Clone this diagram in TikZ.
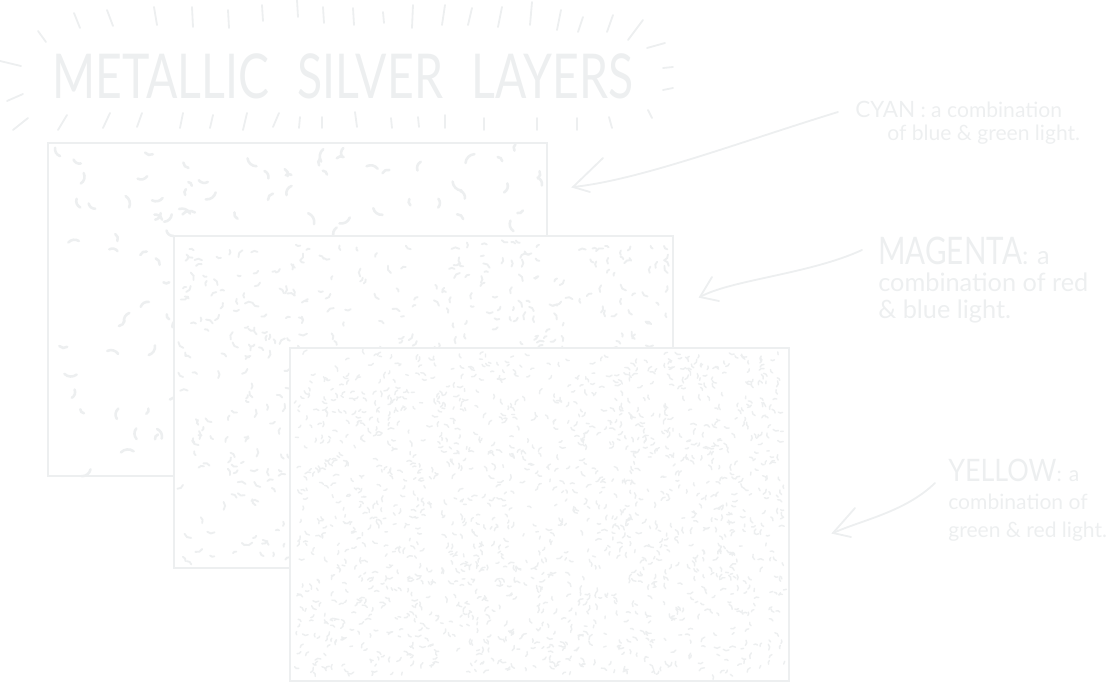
\documentclass[tikz,border=0pt]{standalone}
\usepackage{fontspec}
\setmainfont{Lato}
\usepackage{tikz}
\usetikzlibrary{positioning}

\definecolor{faint}{RGB}{237,239,240}

\tikzset{
  layer/.style={draw=faint, line width=1.4pt, fill=white},
  ray/.style={draw=faint, line width=1.3pt, line cap=round},
  speck/.style={draw=faint, line cap=round},
  pointer/.style={draw=faint, line width=1.3pt, line cap=round},
  note/.style={text=faint, align=left, anchor=north west, inner sep=0pt},
}

\begin{document}
\begin{tikzpicture}[x=0.025cm, y=-0.025cm]
  \useasboundingbox (0,0) rectangle (1111,683);
  \pgfmathsetseed{17}

  % title with its rays
  \node[text=faint, anchor=west, inner sep=0pt, xscale=0.75,
        font=\fontsize{44}{44}\selectfont] (title) at (52,76)
    {METALLIC\hspace{0.55cm} SILVER\hspace{0.55cm} LAYERS};
  \foreach \xa/\ya/\xb/\yb in {38/31/46/42, 74/13/80/28, 107/10/113/26, 154/7/157/25,
      192/7/193/27, 228/10/229/28, 262/5/263/21, 297/0/298/17, 323/7/324/23,
      353/8/354/25, 383/12/384/23, 413/5/412/28, 445/5/442/25, 472/8/468/25,
      502/7/498/27, 532/2/530/25, 561/10/557/30, 583/17/578/32, 613/15/607/32,
      643/20/628/40, 665/43/647/48, 673/67/663/68, 673/88/663/90,
      0/61/21/66, 7/101/23/94}
    \draw[ray] (\xa,\ya) -- (\xb,\yb);
  \foreach \xa/\ya/\xb/\yb in {13/130/28/118, 58/130/67/115, 103/128/110/113,
      137/127/142/113, 180/128/183/113, 210/128/213/115, 243/130/247/113,
      273/127/279/113, 299/128/300/117, 322/128/322/117, 355/112/357/127,
      391/118/392/128, 418/117/419/127, 445/115/445/128, 484/118/484/130,
      537/118/537/130, 577/118/577/130, 609/117/612/128, 648/110/652/118}
    \draw[ray] (\xa,\ya) -- (\xb,\yb);

  % back layer
  \draw[layer] (48,143) rectangle (547,476);
  \foreach \k in {1,...,170}{
    \pgfmathsetmacro\sx{56+484*rnd}
    \pgfmathsetmacro\sy{150+320*rnd}
    \pgfmathsetmacro\sa{360*rnd}
    \pgfmathsetmacro\sl{5+8*rnd}
    \draw[speck, line width=1.8pt] (\sx,\sy) to[bend left=40] ++(\sa:\sl);
  }

  % middle layer
  \draw[layer] (174,236) rectangle (673,568);
  \foreach \k in {1,...,650}{
    \pgfmathsetmacro\sx{180+488*rnd}
    \pgfmathsetmacro\sy{242+320*rnd}
    \pgfmathsetmacro\sa{360*rnd}
    \pgfmathsetmacro\sl{3+5*rnd}
    \draw[speck, line width=1.3pt] (\sx,\sy) to[bend left=40] ++(\sa:\sl);
  }

  % front layer
  \draw[layer] (290,348) rectangle (789,681);
  \foreach \k in {1,...,1600}{
    \pgfmathsetmacro\sx{296+488*rnd}
    \pgfmathsetmacro\sy{354+321*rnd}
    \pgfmathsetmacro\sa{360*rnd}
    \pgfmathsetmacro\sl{2.5+3.5*rnd}
    \draw[speck, line width=1pt] (\sx,\sy) to[bend left=40] ++(\sa:\sl);
  }

  % labels
  \node[note, font=\fontsize{15}{16}\selectfont] (cyan) at (855,101)
    {{\fontsize{16}{16}\selectfont CYAN} : a combination\\
     \hspace*{0.8cm}of blue \& green light.};
  \node[note, font=\fontsize{18}{19}\selectfont] (magenta) at (878,237)
    {{\fontsize{27}{19}\selectfont\scalebox{0.78}[1]{MAGENTA}}: a\\
     combination of red\\
     \& blue light.};
  \node[note, font=\fontsize{15}{20}\selectfont] (yellow) at (948,459)
    {{\fontsize{22}{20}\selectfont\scalebox{0.87}[1]{YELLOW}}: a\\
     combination of\\
     green \& red light.};

  % arrows to the layers
  \coordinate (cyanfrom) at (838,112);
  \coordinate (cyantip) at (573,187);
  \draw[pointer] (cyanfrom) .. controls (740,142) and (640,180) .. (cyantip);
  \draw[pointer] (603,158) -- (cyantip) -- (590,192);

  \coordinate (magentafrom) at (862,250);
  \coordinate (magentatip) at (700,297);
  \draw[pointer] (magentafrom) .. controls (810,274) and (730,280) .. (magentatip);
  \draw[pointer] (712,277) -- (magentatip) -- (719,301);

  \coordinate (yellowfrom) at (935,483);
  \coordinate (yellowtip) at (833,533);
  \draw[pointer] (yellowfrom) .. controls (905,512) and (862,520) .. (yellowtip);
  \draw[pointer] (855,508) -- (yellowtip) -- (851,537);
\end{tikzpicture}
\end{document}
